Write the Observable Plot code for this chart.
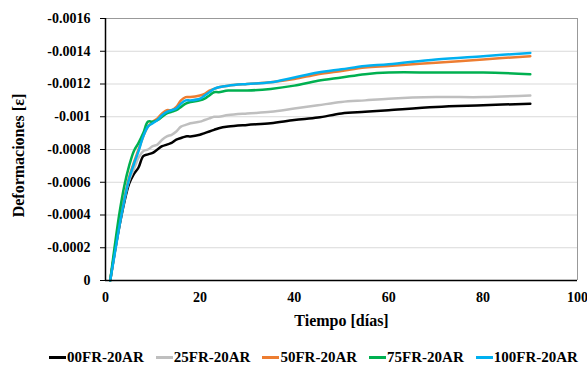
<!DOCTYPE html>
<html>
<head>
<meta charset="utf-8">
<script src="https://cdn.jsdelivr.net/npm/d3@7"></script>
<script src="https://cdn.jsdelivr.net/npm/@observablehq/plot@0.6"></script>
<style>
  body { margin: 0; background: #fff; font-family: "Liberation Serif", "DejaVu Serif", serif; }
  #legend { display: flex; justify-content: center; gap: 12px; font-weight: bold; font-size: 15px; margin-top: 9px; padding-left: 40px; }
  .item { display: flex; align-items: center; }
  .sw { display: inline-block; width: 17px; height: 3px; margin-right: 1px; }
</style>
</head>
<body>
<div id="chart"></div>
<div id="legend"></div>
<script>
const days = [1, 2, 3, 4, 5, 6, 7, 8, 9, 10, 11, 12, 13, 14, 15, 16, 17, 18, 20, 21, 22, 23, 24, 26, 30, 35, 40, 45, 50, 55, 60, 70, 80, 90];

const s00FR = [0, -0.00018, -0.00034, -0.00048, -0.00059, -0.00065, -0.00069, -0.00076, -0.00077, -0.00078, -0.0008, -0.00082, -0.00083, -0.00084, -0.00086, -0.00087, -0.00088, -0.00088, -0.00089, -0.0009, -0.00091, -0.00092, -0.00093, -0.00094, -0.00095, -0.00096, -0.00098, -0.000995, -0.00102, -0.00103, -0.00104, -0.00106, -0.00107, -0.00108];
const s25FR = [0, -0.00019, -0.00036, -0.0005, -0.00061, -0.00068, -0.00075, -0.00079, -0.0008, -0.00082, -0.00083, -0.00086, -0.00088, -0.00089, -0.00091, -0.00094, -0.00095, -0.00096, -0.00097, -0.00098, -0.00099, -0.001, -0.001, -0.00101, -0.00102, -0.00103, -0.00105, -0.00107, -0.00109, -0.0011, -0.00111, -0.00112, -0.00112, -0.00113];
const s50FR = [0, -0.00018, -0.00035, -0.0005, -0.00063, -0.00072, -0.0008, -0.00088, -0.00094, -0.00097, -0.00099, -0.00102, -0.00104, -0.00104, -0.00106, -0.0011, -0.00112, -0.00112, -0.00113, -0.00114, -0.00116, -0.00117, -0.00118, -0.00119, -0.0012, -0.00121, -0.00123, -0.00126, -0.00128, -0.0013, -0.00131, -0.00133, -0.00135, -0.00137];
const s75FR = [0, -0.00022, -0.00042, -0.00058, -0.0007, -0.00079, -0.00084, -0.0009, -0.00097, -0.00097, -0.00098, -0.001, -0.00102, -0.00103, -0.00104, -0.00106, -0.00108, -0.00109, -0.0011, -0.00111, -0.00113, -0.00115, -0.00115, -0.00116, -0.00116, -0.00117, -0.00119, -0.00122, -0.00124, -0.00126, -0.00127, -0.00127, -0.00127, -0.00126];
const s100FR = [0, -0.00017, -0.00034, -0.00049, -0.00062, -0.00071, -0.00079, -0.00088, -0.00094, -0.00096, -0.00098, -0.00101, -0.00103, -0.00104, -0.00105, -0.00108, -0.0011, -0.0011, -0.00111, -0.00113, -0.00115, -0.00117, -0.00118, -0.00119, -0.0012, -0.00121, -0.00124, -0.00127, -0.00129, -0.00131, -0.00132, -0.00135, -0.00137, -0.00139];

const seriesNames = ["00FR-20AR", "25FR-20AR", "50FR-20AR", "75FR-20AR", "100FR-20AR"];
const seriesColors = ["#000000", "#bfbfbf", "#ed7d31", "#00b050", "#00b0f0"];
const seriesValues = [s00FR, s25FR, s50FR, s75FR, s100FR];
const yTicks = [0, -0.0002, -0.0004, -0.0006, -0.0008, -0.001, -0.0012, -0.0014, -0.0016];
const xTicks = [0, 20, 40, 60, 80, 100];

const rows = [];
seriesNames.forEach((name, i) => {
  days.forEach((d, j) => rows.push({serie: name, dia: d, def: seriesValues[i][j]}));
});

const fmt = d => d === 0 ? "0" : String(+d.toFixed(4));

const chart = Plot.plot({
  width: 587,
  height: 340,
  marginLeft: 105,
  marginRight: 10,
  marginTop: 18,
  marginBottom: 60,
  style: {fontFamily: '"Liberation Serif", "DejaVu Serif", serif', fontWeight: "bold", fontSize: "14px", color: "#000"},
  x: {domain: [0, 100], label: null},
  y: {domain: [0, -0.0016], label: null},
  color: {domain: seriesNames, range: seriesColors},
  marks: [
    Plot.ruleY(yTicks.filter(t => t !== 0), {stroke: "#d9d9d9", strokeWidth: 1}),
    Plot.ruleY([-0.0016], {stroke: "#999", strokeWidth: 1}),
    Plot.ruleX([100], {stroke: "#999", strokeWidth: 1}),
    Plot.axisY({ticks: yTicks, tickSize: 5, tickPadding: 10, tickFormat: fmt, label: null, fontSize: 14}),
    Plot.axisX({ticks: xTicks, tickSize: 0, tickPadding: 12, tickFormat: d => String(d), label: null, fontSize: 14}),
    Plot.line(rows, {x: "dia", y: "def", z: "serie", stroke: "serie", strokeWidth: 2.5, curve: "catmull-rom"}),
    Plot.ruleX([0], {stroke: "#000", strokeWidth: 1.5}),
    Plot.ruleY([0], {stroke: "#000", strokeWidth: 1.5}),
    Plot.text(["Tiempo [días]"], {frameAnchor: "bottom", dy: 45, fontSize: 16, fontWeight: "bold"}),
    Plot.text(["Deformaciones [ε]"], {frameAnchor: "left", textAnchor: "middle", dx: -87, dy: 6, rotate: -90, fontSize: 16, fontWeight: "bold"})
  ]
});
document.getElementById("chart").appendChild(chart);

const legend = document.getElementById("legend");
seriesNames.forEach((name, i) => {
  const item = document.createElement("div");
  item.className = "item";
  const sw = document.createElement("span");
  sw.className = "sw";
  sw.style.background = seriesColors[i];
  item.appendChild(sw);
  item.appendChild(document.createTextNode(name));
  legend.appendChild(item);
});
</script>
</body>
</html>
